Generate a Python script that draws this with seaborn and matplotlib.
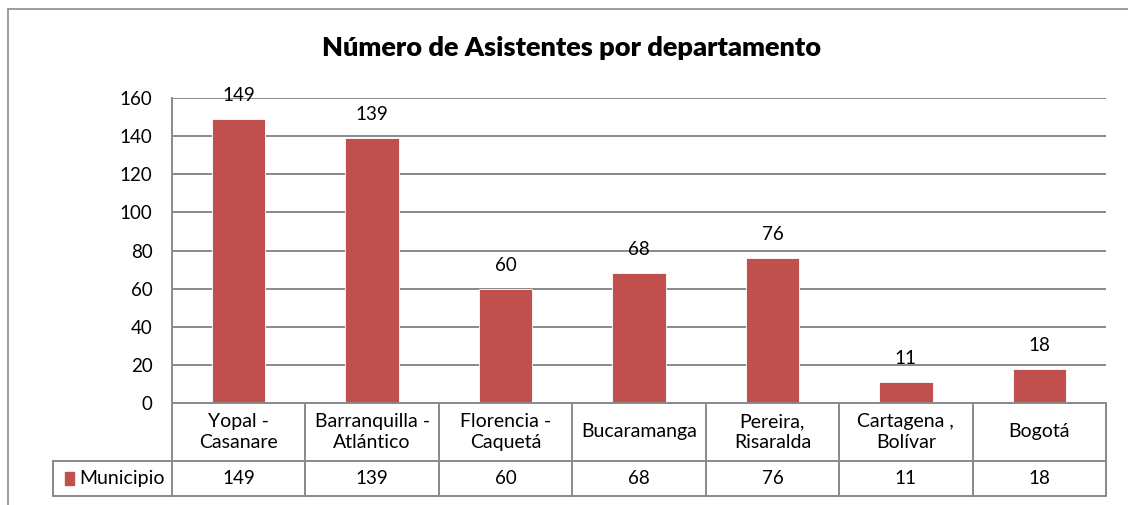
import matplotlib
matplotlib.use("Agg")
import matplotlib.pyplot as plt
from matplotlib.lines import Line2D
import seaborn as sns
import pandas as pd

categories = ["Yopal -\nCasanare", "Barranquilla -\nAtlántico", "Florencia -\nCaquetá",
              "Bucaramanga", "Pereira,\nRisaralda", "Cartagena ,\nBolívar", "Bogotá"]
values = [149, 139, 60, 68, 76, 11, 18]
series_name = "Municipio"
title = "Número de Asistentes por departamento"
yticks = [0, 20, 40, 60, 80, 100, 120, 140, 160]

sns.set_theme(style="white")
plt.rcParams['font.family'] = ['Lato', 'DejaVu Sans']

W, H = 1128, 505
fig = plt.figure(figsize=(W / 100, H / 100), dpi=100)
BAR = "#C0504D"
GRID = "#898989"

def fx(px):
    return px / W

def fy(py):
    return 1 - py / H

# outer chart border (top and left visible)
fig.add_artist(Line2D([fx(8), fx(8)], [fy(9), 0], color="#8c8c8c", lw=1.2))
fig.add_artist(Line2D([fx(8), 1], [fy(9), fy(9)], color="#8c8c8c", lw=1.2))

L, R, T, B = 172, 1106, 98, 403
ax = fig.add_axes([fx(L), fy(B), fx(R - L), (B - T) / H])
df = pd.DataFrame({"cat": categories, "val": values})
sns.barplot(data=df, x="cat", y="val", color=BAR, width=0.4, saturation=1,
            ax=ax, edgecolor="white", linewidth=0.6, zorder=3)
ax.set_xlim(-0.5, len(categories) - 0.5)
ax.set_ylim(0, 160)
ax.set_yticks(yticks)
ax.set_yticklabels([str(v) for v in yticks], fontsize=13.5, color="black")
ax.tick_params(axis="y", length=0, pad=14)
ax.set_xticks([])
ax.set_xlabel("")
ax.set_ylabel("")
for v in yticks[1:]:
    ax.axhline(v, color=GRID, lw=1.4, zorder=1)
for s in ["top", "right", "bottom"]:
    ax.spines[s].set_visible(False)
ax.spines["left"].set_color(GRID)
ax.spines["left"].set_linewidth(1.4)
for i, v in enumerate(values):
    ax.annotate(str(v), (i, v), xytext=(0, 17), textcoords="offset points",
                ha="center", va="center", fontsize=13.5, color="black", zorder=5)

fig.text(fx(572), fy(48), title, ha="center", va="center", fontsize=19.5,
         fontweight="heavy", color="black")

# data table below the axis
TL, TB, TM = 53, 496, 461
per = (R - L) / len(categories)
left_x = -0.5 - (L - TL) / per
tax = fig.add_axes([fx(TL), fy(TB), fx(R - TL), (TB - B) / H])
tax.set_xlim(left_x, len(categories) - 0.5)
tax.set_ylim(0, 1)
tax.axis("off")
ym = (TB - TM) / (TB - B)
lc = dict(color=GRID, lw=1.4, clip_on=False)
tax.plot([-0.5, len(categories) - 0.5], [1, 1], **lc)
tax.plot([left_x, len(categories) - 0.5], [ym, ym], **lc)
tax.plot([left_x, len(categories) - 0.5], [0, 0], **lc)
tax.plot([left_x, left_x], [0, ym], **lc)
for k in range(len(categories) + 1):
    tax.plot([k - 0.5, k - 0.5], [0, 1], **lc)
for i, (c, v) in enumerate(zip(categories, values)):
    tax.text(i, (1 + ym) / 2, c, ha="center", va="center", fontsize=14,
             linespacing=1.3, color="black")
    tax.text(i, ym / 2, str(v), ha="center", va="center", fontsize=13.5, color="black")
tax.add_patch(plt.Rectangle((left_x + 0.09, ym / 2 - 0.075), 0.07, 0.15,
                            color=BAR, transform=tax.transData, clip_on=False))
tax.text(left_x + 0.2, ym / 2, series_name, ha="left", va="center", fontsize=14,
         color="black")

fig.savefig("out.png", dpi=100)
